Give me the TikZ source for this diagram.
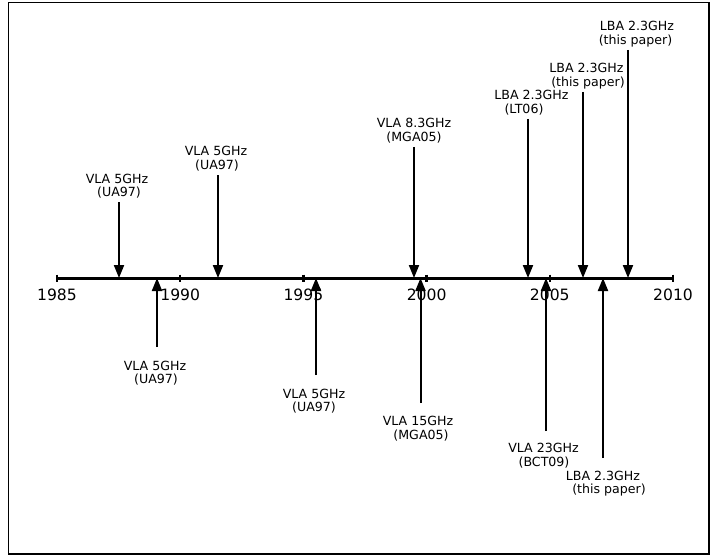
\documentclass[tikz,border=0pt]{standalone}
\usepackage{fontspec}
\setmainfont{DejaVu Sans}
\usetikzlibrary{arrows.meta}
\begin{document}
\begin{tikzpicture}[x=1pt,y=-1pt,
  arr/.style={line width=2pt,-{Triangle[length=13pt,width=10pt]}},
  lbl/.style={anchor=base,inner sep=0pt,font=\fontsize{12.6}{15}\selectfont},
  yr/.style={anchor=base,inner sep=0pt,font=\fontsize{15.6}{18}\selectfont},
  tickmark/.style={line width=2.5pt}]
\useasboundingbox (0,0) rectangle (711,556);
\draw[line width=1.1pt] (8.5,2.5) rectangle (709,554);
% axis
\coordinate (a0) at (57,278);
\coordinate (a1) at (673,278);
\draw[line width=3pt] (a0) -- (a1);
\foreach \i/\x/\t in {0/57/1985,1/180.2/1990,2/303.4/1995,3/426.6/2000,4/549.8/2005,5/673/2010}{
  \coordinate (k\i a) at (\x,274.5);
  \coordinate (k\i b) at (\x,281.5);
  \draw[tickmark] (k\i a) -- (k\i b);
  \node[yr] (y\i) at (\x,300) {\t};
}
% top arrows (pointing down)
\foreach \i/\x/\s in {1/119/202,2/218/175,3/414/147,4/528/119,5/583/92,6/628/50}{
  \coordinate (ts\i) at (\x,\s);
  \coordinate (tp\i) at (\x,278);
  \draw[arr] (ts\i) -- (tp\i);
}
% bottom arrows (pointing up)
\foreach \i/\x/\e in {1/157/347,2/316/375,3/420.5/403,4/546/431,5/603/458}{
  \coordinate (bs\i) at (\x,\e);
  \coordinate (bp\i) at (\x,278);
  \draw[arr] (bs\i) -- (bp\i);
}
% top labels
\node[lbl] (t1a) at (117,183) {VLA 5GHz};
\node[lbl] (t1b) at (119,196.5) {(UA97)};
\node[lbl] (t2a) at (216,156) {VLA 5GHz};
\node[lbl] (t2b) at (217,169.5) {(UA97)};
\node[lbl] (t3a) at (414,128) {VLA 8.3GHz};
\node[lbl] (t3b) at (414,141.5) {(MGA05)};
\node[lbl] (t4a) at (531.5,100) {LBA 2.3GHz};
\node[lbl] (t4b) at (524,113.5) {(LT06)};
\node[lbl] (t5a) at (586.5,73) {LBA 2.3GHz};
\node[lbl] (t5b) at (588,86.5) {(this paper)};
\node[lbl] (t6a) at (637,31) {LBA 2.3GHz};
\node[lbl] (t6b) at (635.5,44.5) {(this paper)};
% bottom labels
\node[lbl] (b1a) at (155,370) {VLA 5GHz};
\node[lbl] (b1b) at (156,383.5) {(UA97)};
\node[lbl] (b2a) at (314,398) {VLA 5GHz};
\node[lbl] (b2b) at (314,411.5) {(UA97)};
\node[lbl] (b3a) at (418,425.5) {VLA 15GHz};
\node[lbl] (b3b) at (421,439) {(MGA05)};
\node[lbl] (b4a) at (543.5,452.5) {VLA 23GHz};
\node[lbl] (b4b) at (544,466) {(BCT09)};
\node[lbl] (b5a) at (603,480) {LBA 2.3GHz};
\node[lbl] (b5b) at (609,493.5) {(this paper)};
\end{tikzpicture}
\end{document}
